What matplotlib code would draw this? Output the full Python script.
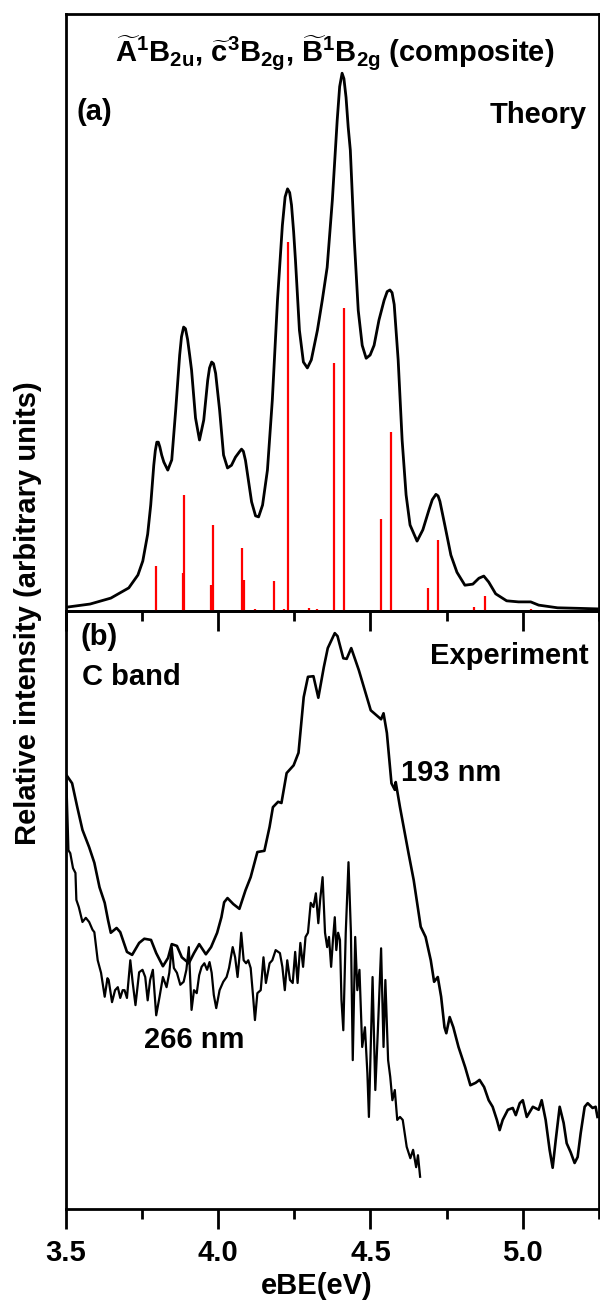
import matplotlib
matplotlib.use('Agg')
import matplotlib.pyplot as plt
from matplotlib.ticker import MultipleLocator

# (a) 理论包络线
theory_ebe = [3.501, 3.580, 3.648, 3.707, 3.737, 3.753, 3.769, 3.779, 3.789, 3.794,
              3.799, 3.804, 3.809, 3.815, 3.822, 3.835, 3.848, 3.861, 3.874, 3.880,
              3.887, 3.893, 3.900, 3.907, 3.913, 3.926, 3.939, 3.953, 3.966, 3.972,
              3.979, 3.985, 3.992, 4.005, 4.018, 4.031, 4.044, 4.057, 4.070, 4.077,
              4.083, 4.090, 4.097, 4.110, 4.123, 4.133, 4.146, 4.162, 4.178, 4.195,
              4.211, 4.220, 4.228, 4.235, 4.241, 4.248, 4.254, 4.267, 4.280, 4.293,
              4.306, 4.326, 4.342, 4.358, 4.375, 4.391, 4.399, 4.407, 4.413, 4.420,
              4.427, 4.434, 4.447, 4.460, 4.473, 4.486, 4.499, 4.512, 4.528, 4.545,
              4.555, 4.564, 4.571, 4.578, 4.591, 4.604, 4.617, 4.630, 4.653, 4.672,
              4.692, 4.703, 4.715, 4.722, 4.728, 4.744, 4.764, 4.784, 4.810, 4.836,
              4.856, 4.872, 4.888, 4.911, 4.947, 4.986, 5.026, 5.052, 5.114, 5.183,
              5.245]
theory_int = [0.007, 0.013, 0.024, 0.043, 0.067, 0.093, 0.143, 0.197, 0.271, 0.298,
              0.314, 0.314, 0.305, 0.290, 0.277, 0.262, 0.281, 0.374, 0.476, 0.510,
              0.528, 0.525, 0.505, 0.475, 0.448, 0.359, 0.318, 0.355, 0.429, 0.452,
              0.463, 0.460, 0.442, 0.374, 0.290, 0.266, 0.271, 0.286, 0.296, 0.301,
              0.297, 0.280, 0.253, 0.203, 0.177, 0.175, 0.197, 0.262, 0.392, 0.578,
              0.717, 0.770, 0.785, 0.778, 0.755, 0.705, 0.652, 0.522, 0.463, 0.452,
              0.467, 0.522, 0.578, 0.639, 0.764, 0.913, 0.975, 1.000, 0.990, 0.955,
              0.900, 0.857, 0.690, 0.559, 0.494, 0.470, 0.476, 0.494, 0.541, 0.578,
              0.594, 0.597, 0.592, 0.570, 0.467, 0.318, 0.216, 0.160, 0.130, 0.151,
              0.188, 0.207, 0.217, 0.214, 0.204, 0.160, 0.104, 0.072, 0.048, 0.050,
              0.061, 0.065, 0.054, 0.032, 0.019, 0.017, 0.017, 0.011, 0.006, 0.005,
              0.004]

# (a) 跃迁棒状谱
stick_ebe = [3.797, 3.885, 3.889, 3.978, 3.984, 4.079, 4.084, 4.121, 4.185, 4.215,
             4.229, 4.300, 4.326, 4.381, 4.414, 4.534, 4.569, 4.689, 4.721, 4.839,
             4.875, 5.027]
stick_int = [0.084, 0.071, 0.216, 0.048, 0.160, 0.117, 0.058, 0.004, 0.056, 0.004,
             0.686, 0.006, 0.004, 0.461, 0.563, 0.171, 0.333, 0.043, 0.132, 0.007,
             0.028, 0.004]

# (b) 193 nm 实验谱
exp193_ebe = [3.502, 3.521, 3.538, 3.555, 3.577, 3.594, 3.611, 3.628, 3.639, 3.648,
              3.667, 3.679, 3.701, 3.718, 3.741, 3.758, 3.780, 3.797, 3.819, 3.836,
              3.848, 3.865, 3.881, 3.904, 3.921, 3.938, 3.960, 3.977, 3.997, 4.011,
              4.020, 4.031, 4.050, 4.070, 4.090, 4.107, 4.129, 4.152, 4.169, 4.180,
              4.197, 4.208, 4.225, 4.248, 4.264, 4.281, 4.295, 4.313, 4.329, 4.347,
              4.360, 4.383, 4.392, 4.411, 4.422, 4.437, 4.462, 4.501, 4.535, 4.543,
              4.554, 4.569, 4.580, 4.583, 4.597, 4.625, 4.642, 4.665, 4.681, 4.698,
              4.709, 4.721, 4.732, 4.743, 4.749, 4.760, 4.772, 4.789, 4.811, 4.828,
              4.845, 4.858, 4.873, 4.888, 4.901, 4.915, 4.924, 4.934, 4.951, 4.967,
              4.977, 4.990, 5.000, 5.013, 5.033, 5.052, 5.062, 5.075, 5.088, 5.098,
              5.108, 5.121, 5.134, 5.144, 5.157, 5.170, 5.180, 5.190, 5.203, 5.213,
              5.229, 5.239, 5.245]
exp193_int = [0.726, 0.712, 0.672, 0.634, 0.605, 0.579, 0.538, 0.512, 0.483, 0.462,
              0.470, 0.463, 0.430, 0.425, 0.445, 0.452, 0.450, 0.428, 0.406, 0.420,
              0.443, 0.440, 0.421, 0.411, 0.428, 0.443, 0.426, 0.438, 0.462, 0.488,
              0.513, 0.520, 0.510, 0.502, 0.533, 0.555, 0.597, 0.599, 0.639, 0.672,
              0.681, 0.679, 0.729, 0.742, 0.763, 0.856, 0.890, 0.891, 0.855, 0.906,
              0.938, 0.963, 0.958, 0.921, 0.920, 0.938, 0.901, 0.834, 0.819, 0.829,
              0.796, 0.712, 0.701, 0.714, 0.672, 0.595, 0.550, 0.472, 0.455, 0.416,
              0.380, 0.388, 0.355, 0.304, 0.294, 0.321, 0.304, 0.271, 0.237, 0.207,
              0.211, 0.216, 0.204, 0.182, 0.171, 0.149, 0.132, 0.149, 0.166, 0.169,
              0.157, 0.177, 0.182, 0.154, 0.171, 0.166, 0.182, 0.149, 0.099, 0.069,
              0.115, 0.171, 0.144, 0.110, 0.095, 0.077, 0.087, 0.127, 0.171, 0.177,
              0.169, 0.171, 0.154]

# (b) 266 nm 实验谱
exp266_ebe = [3.502, 3.506, 3.509, 3.515, 3.524, 3.532, 3.535, 3.543, 3.555, 3.566,
              3.577, 3.588, 3.594, 3.605, 3.616, 3.628, 3.637, 3.641, 3.652, 3.662,
              3.671, 3.679, 3.687, 3.693, 3.701, 3.712, 3.720, 3.729, 3.741, 3.752,
              3.761, 3.769, 3.777, 3.786, 3.797, 3.808, 3.819, 3.831, 3.840, 3.848,
              3.855, 3.865, 3.876, 3.887, 3.896, 3.904, 3.913, 3.921, 3.930, 3.938,
              3.946, 3.955, 3.964, 3.972, 3.979, 3.986, 3.994, 4.005, 4.017, 4.028,
              4.036, 4.048, 4.056, 4.064, 4.070, 4.076, 4.084, 4.092, 4.099, 4.107,
              4.115, 4.121, 4.129, 4.140, 4.149, 4.157, 4.169, 4.178, 4.189, 4.203,
              4.211, 4.219, 4.227, 4.236, 4.245, 4.253, 4.261, 4.270, 4.279, 4.287,
              4.295, 4.304, 4.313, 4.321, 4.329, 4.335, 4.343, 4.351, 4.358, 4.364,
              4.371, 4.377, 4.383, 4.388, 4.394, 4.400, 4.405, 4.411, 4.419, 4.428,
              4.436, 4.442, 4.450, 4.457, 4.464, 4.473, 4.482, 4.490, 4.495, 4.507,
              4.516, 4.524, 4.535, 4.543, 4.549, 4.558, 4.565, 4.572, 4.580, 4.588,
              4.597, 4.606, 4.619, 4.631, 4.640, 4.650, 4.656, 4.663]
exp266_int = [0.722, 0.650, 0.600, 0.595, 0.570, 0.562, 0.517, 0.505, 0.480, 0.487,
              0.480, 0.467, 0.463, 0.416, 0.395, 0.355, 0.386, 0.383, 0.346, 0.366,
              0.371, 0.353, 0.366, 0.366, 0.353, 0.416, 0.378, 0.341, 0.396, 0.400,
              0.388, 0.349, 0.383, 0.400, 0.324, 0.355, 0.388, 0.371, 0.395, 0.438,
              0.403, 0.395, 0.375, 0.380, 0.400, 0.438, 0.333, 0.366, 0.361, 0.391,
              0.405, 0.411, 0.400, 0.413, 0.395, 0.358, 0.336, 0.366, 0.380, 0.388,
              0.403, 0.438, 0.421, 0.388, 0.421, 0.462, 0.416, 0.411, 0.416, 0.403,
              0.355, 0.316, 0.361, 0.366, 0.421, 0.378, 0.411, 0.416, 0.433, 0.428,
              0.405, 0.366, 0.416, 0.383, 0.378, 0.430, 0.378, 0.445, 0.405, 0.455,
              0.462, 0.512, 0.505, 0.528, 0.478, 0.517, 0.555, 0.462, 0.438, 0.455,
              0.405, 0.450, 0.488, 0.433, 0.462, 0.450, 0.349, 0.299, 0.462, 0.580,
              0.462, 0.249, 0.455, 0.366, 0.400, 0.271, 0.304, 0.227, 0.154, 0.388,
              0.199, 0.294, 0.436, 0.271, 0.383, 0.249, 0.221, 0.182, 0.199, 0.149,
              0.154, 0.149, 0.104, 0.085, 0.099, 0.070, 0.090, 0.054]

x_major = [3.5, 4.0, 4.5, 5.0]
x_major_labels = ['3.5', '4.0', '4.5', '5.0']


def set_axis(ax, show_labels):
    '''统一坐标轴样式：只保留底部向外的刻度'''
    ax.set_xlim(3.5, 5.25)
    ax.set_xticks(x_major)
    ax.xaxis.set_minor_locator(MultipleLocator(0.25))
    ax.set_yticks([])
    for sp in ax.spines.values():
        sp.set_linewidth(2.0)
    ax.tick_params(axis='x', which='major', direction='out', length=14.4, width=2.0,
                   top=False, pad=7, labelsize=21)
    ax.tick_params(axis='x', which='minor', direction='out', length=7.2, width=2.0,
                   top=False)
    if show_labels:
        ax.set_xticklabels(x_major_labels, fontweight='bold')
    else:
        ax.tick_params(axis='x', labelbottom=False)
    ax.set_facecolor('none')


def run_plot():
    plt.rcParams['font.family'] = ['Liberation Sans', 'DejaVu Sans']
    plt.rcParams['font.weight'] = 'bold'
    plt.rcParams['mathtext.fontset'] = 'custom'
    plt.rcParams['mathtext.rm'] = 'Liberation Sans:bold'
    plt.rcParams['mathtext.it'] = 'Liberation Sans:bold'
    plt.rcParams['mathtext.bf'] = 'Liberation Sans:bold'
    plt.rcParams['mathtext.default'] = 'rm'

    fig = plt.figure(figsize=(6, 13.02), dpi=100)
    ax_b = fig.add_axes([0.1095, 0.0714, 0.8888, 0.4593])
    ax_a = fig.add_axes([0.1095, 0.5307, 0.8888, 0.4585])

    # (a) 理论
    ax_a.vlines(stick_ebe, 0, stick_int, colors='#ff0000', linewidth=1.6)
    ax_a.plot(theory_ebe, theory_int, color='k', linewidth=2.0,
              solid_joinstyle='round')
    ax_a.set_ylim(0, 1.11)
    set_axis(ax_a, False)

    fs = 21
    title = (r'$\widetilde{A}^{1}B_{2u}$, $\widetilde{c}^{3}B_{2g}$, '
             r'$\widetilde{B}^{1}B_{2g}$ (composite)')
    ax_a.text(0.505, 0.9196, title, transform=ax_a.transAxes, ha='center',
              va='baseline', fontsize=fs, fontweight='bold')
    ax_a.text(0.021, 0.822, '(a)', transform=ax_a.transAxes, ha='left',
              va='baseline', fontsize=fs, fontweight='bold')
    ax_a.text(0.9775, 0.817, 'Theory', transform=ax_a.transAxes, ha='right',
              va='baseline', fontsize=fs, fontweight='bold')

    # (b) 实验
    ax_b.plot(exp193_ebe, exp193_int, color='k', linewidth=1.9)
    ax_b.plot(exp266_ebe, exp266_int, color='k', linewidth=1.6)
    ax_b.set_ylim(0, 1)
    set_axis(ax_b, True)

    ax_b.text(0.027, 0.943, '(b)', transform=ax_b.transAxes, ha='left',
              va='baseline', fontsize=fs, fontweight='bold')
    ax_b.text(0.031, 0.876, 'C band', transform=ax_b.transAxes, ha='left',
              va='baseline', fontsize=fs, fontweight='bold')
    ax_b.text(0.9805, 0.911, 'Experiment', transform=ax_b.transAxes, ha='right',
              va='baseline', fontsize=fs, fontweight='bold')
    ax_b.text(0.629, 0.716, '193 nm', transform=ax_b.transAxes, ha='left',
              va='baseline', fontsize=fs, fontweight='bold')
    ax_b.text(0.147, 0.269, '266 nm', transform=ax_b.transAxes, ha='left',
              va='baseline', fontsize=fs, fontweight='bold')

    # 坐标轴名称
    fig.text(0.528, 1 - 1294 / 1302, 'eBE(eV)', ha='center', va='baseline',
             fontsize=fs, fontweight='bold')
    fig.text(0.047, 0.529, 'Relative intensity (arbitrary units)', rotation=90,
             ha='center', va='center', fontsize=fs, fontweight='bold')

    fig.savefig('out.png', dpi=100)


if __name__ == '__main__':
    run_plot()
